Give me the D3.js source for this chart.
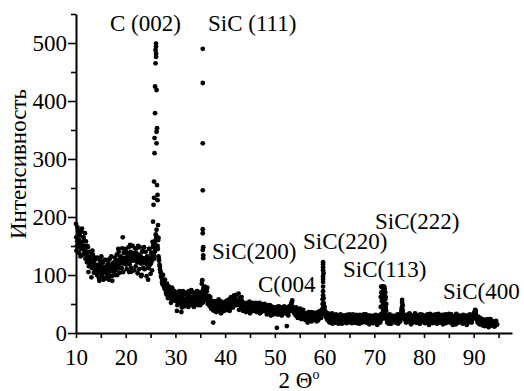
<!DOCTYPE html>
<html>
<head>
<meta charset="utf-8">
<script src="https://cdn.jsdelivr.net/npm/d3@7"></script>
<style>
  body { margin: 0; background: #fff; }
  svg text { font-family: "Liberation Serif", "DejaVu Serif", "Times New Roman", serif; fill: #000; }
</style>
</head>
<body>
<svg id="chart" width="524" height="391"></svg>
<script>
const SERIF = "'Liberation Serif', 'DejaVu Serif', 'Noto Serif', 'Times New Roman', serif";

// background scan, read every 0.2 deg: pass A from 10.0, pass B from 10.1, pass C from 10.05
const BG_STEP = 0.2;
const BG_A_START = 10;
const BG_A = [
  188, 150, 176, 138, 168, 145, 180, 135, 160, 172,
  158, 122, 148, 115, 140, 126, 112, 135, 104, 130,
  128, 100, 118, 95, 125, 108, 98, 122, 112, 94,
  126, 102, 115, 92, 128, 110, 98, 120, 105, 130,
  108, 135, 118, 140, 104, 128, 112, 165, 138, 120,
  145, 110, 132, 148, 118, 140, 106, 150, 125, 138,
  115, 146, 103, 135, 148, 120, 100, 142, 128, 110,
  140, 98, 130, 112, 145, 102, 135, 138, 148, 155,
  160, 178, 150, 132, 118, 105, 96, 84, 90, 78,
  82, 66, 78, 62, 74, 70, 58, 76, 64, 72,
  55, 68, 48, 62, 72, 50, 36, 65, 58, 46,
  70, 52, 64, 45, 68, 58, 74, 48, 62, 55,
  66, 50, 72, 56, 60, 48, 70, 58, 75, 62,
  68, 56, 78, 60, 50, 62, 42, 55, 18, 38,
  50, 36, 46, 55, 40, 48, 34, 52, 44, 38,
  46, 55, 40, 50, 58, 42, 62, 50, 44, 65,
  58, 48, 66, 52, 40, 60, 45, 55, 38, 50,
  48, 36, 52, 42, 45, 34, 50, 40, 46, 38,
  44, 52, 36, 48, 40, 34, 50, 38, 45, 42,
  40, 46, 32, 44, 36, 48, 30, 42, 38, 34,
  44, 36, 9, 40, 32, 45, 38, 30, 42, 35,
  40, 34, 12, 44, 36, 42, 48, 53, 45, 38,
  42, 30, 38, 26, 40, 34, 28, 36, 32, 24,
  34, 22, 30, 18, 36, 26, 32, 20, 28, 35,
  24, 32, 20, 36, 28, 34, 30, 38, 42, 50,
  45, 36, 28, 22, 32, 18, 26, 30, 16, 24,
  28, 18, 30, 22, 16, 26, 32, 20, 24, 18,
  30, 22, 17, 28, 24, 32, 19, 26, 21, 29,
  18, 27, 31, 20, 25, 16, 29, 23, 30, 19,
  26, 32, 18, 24, 28, 15, 30, 21, 25, 17,
  28, 20, 24, 14, 22, 30, 18, 26, 34, 40,
  36, 30, 24, 18, 28, 20, 25, 16, 30, 22,
  26, 18, 30, 22, 16, 28, 20, 35, 40, 32,
  24, 30, 18, 26, 32, 20, 28, 15, 25, 30,
  22, 34, 18, 28, 24, 31, 16, 26, 20, 29,
  25, 17, 30, 22, 27, 14, 33, 20, 26, 18,
  28, 21, 32, 16, 24, 30, 19, 27, 22, 15,
  30, 24, 17, 28, 21, 33, 18, 25, 29, 14,
  20, 27, 15, 31, 23, 18, 28, 22, 26, 16,
  24, 30, 19, 14, 27, 22, 32, 25, 18, 28,
  32, 36, 38, 26, 18, 22, 15, 24, 20, 13,
  19, 12, 23, 16, 21, 10, 18, 24, 14, 20,
  16, 11, 19, 14
];
const BG_B_START = 10.1;
const BG_B = [
  142, 182, 155, 170, 132, 175, 150, 165, 140, 128,
  136, 150, 105, 132, 118, 96, 142, 120, 125, 108,
  112, 130, 104, 90, 115, 132, 100, 92, 126, 105,
  95, 118, 124, 106, 98, 132, 90, 114, 122, 100,
  126, 100, 145, 112, 132, 120, 146, 105, 128, 142,
  118, 138, 122, 105, 152, 112, 135, 128, 108, 146,
  138, 122, 150, 110, 128, 98, 140, 112, 148, 125,
  122, 132, 92, 145, 118, 138, 108, 150, 128, 142,
  168, 145, 160, 125, 110, 98, 88, 100, 80, 92,
  70, 85, 60, 80, 66, 52, 78, 62, 68, 56,
  62, 38, 70, 54, 60, 66, 44, 72, 52, 68,
  48, 66, 56, 72, 50, 62, 52, 70, 45, 66,
  58, 72, 48, 64, 70, 54, 62, 52, 68, 80,
  58, 72, 50, 64, 46, 56, 52, 40, 48, 55,
  42, 52, 38, 58, 46, 35, 54, 44, 50, 48,
  52, 40, 56, 46, 38, 60, 48, 58, 52, 60,
  64, 54, 50, 68, 56, 48, 62, 42, 52, 44,
  40, 50, 44, 38, 54, 46, 38, 52, 42, 48,
  38, 46, 50, 40, 52, 44, 36, 48, 40, 50,
  44, 36, 48, 38, 42, 34, 46, 40, 32, 44,
  38, 42, 32, 46, 38, 34, 44, 40, 36, 46,
  34, 42, 38, 30, 46, 38, 50, 56, 40, 34,
  36, 44, 32, 38, 30, 42, 24, 34, 40, 28,
  26, 34, 24, 32, 28, 22, 36, 26, 32, 24,
  30, 26, 34, 22, 30, 38, 26, 32, 36, 44,
  38, 30, 24, 34, 20, 28, 22, 34, 26, 20,
  22, 32, 26, 18, 30, 22, 27, 16, 30, 26,
  20, 26, 31, 18, 29, 23, 27, 17, 32, 24,
  29, 22, 17, 28, 21, 31, 24, 18, 26, 32,
  20, 27, 31, 22, 17, 29, 24, 28, 19, 30,
  22, 31, 18, 26, 28, 20, 32, 24, 30, 38,
  34, 26, 30, 22, 16, 32, 24, 29, 20, 27,
  21, 29, 24, 32, 27, 20, 30, 42, 36, 26,
  31, 22, 28, 20, 27, 34, 22, 30, 18, 26,
  28, 20, 30, 24, 17, 27, 32, 21, 31, 24,
  29, 23, 19, 32, 20, 28, 22, 30, 17, 31,
  19, 30, 24, 28, 33, 18, 26, 22, 31, 24,
  21, 32, 26, 20, 31, 24, 28, 32, 20, 27,
  29, 22, 33, 24, 19, 30, 21, 27, 18, 31,
  20, 26, 28, 30, 18, 29, 24, 20, 31, 26,
  35, 40, 30, 22, 28, 16, 26, 18, 24, 17,
  22, 16, 20, 13, 24, 18, 22, 15, 20, 12,
  18, 13, 21, 15
];
const BG_C_START = 10.05;
const BG_C = [
  165, 158, 150, 160, 148, 155, 152, 145, 150, 142,
  140, 132, 128, 124, 130, 118, 122, 115, 118, 112,
  110, 115, 108, 112, 104, 118, 110, 106, 114, 108,
  110, 104, 112, 118, 106, 114, 108, 112, 116, 110,
  115, 120, 124, 118, 126, 122, 130, 124, 120, 128,
  130, 126, 134, 128, 138, 124, 130, 136, 126, 132,
  128, 134, 124, 130, 122, 132, 126, 120, 128, 124,
  122, 118, 126, 115, 128, 120, 124, 130, 134, 140,
  170, 165, 145, 128, 115, 104, 95, 88, 82, 76,
  76, 72, 70, 68, 70, 66, 64, 68, 62, 64,
  60, 62, 58, 56, 62, 54, 58, 60, 56, 58,
  58, 60, 56, 62, 54, 60, 58, 56, 60, 54,
  58, 56, 60, 62, 58, 56, 62, 60, 66, 72,
  64, 62, 58, 54, 52, 50, 48, 46, 46, 44,
  44, 46, 42, 44, 40, 44, 42, 44, 46, 44,
  46, 48, 46, 50, 48, 52, 54, 56, 54, 58,
  58, 56, 54, 52, 50, 48, 48, 46, 44, 44,
  44, 42, 44, 40, 42, 40, 42, 44, 40, 42,
  42, 40, 42, 44, 40, 42, 38, 40, 42, 40,
  38, 40, 38, 36, 40, 38, 36, 38, 36, 38,
  36, 38, 36, 38, 34, 36, 38, 34, 36, 38,
  36, 38, 36, 38, 40, 42, 44, 46, 42, 38,
  36, 34, 32, 34, 32, 30, 32, 30, 28, 30,
  28, 30, 26, 28, 26, 28, 26, 28, 26, 28,
  28, 26, 28, 30, 28, 30, 32, 34, 38, 44,
  34, 28, 26, 24, 26, 24, 22, 24, 22, 24,
  24, 22, 24, 22, 23, 22, 24, 23, 22, 24,
  23, 24, 22, 24, 23, 25, 22, 24, 23, 22,
  24, 22, 23, 25, 22, 24, 23, 22, 24, 23,
  22, 24, 23, 22, 24, 22, 23, 24, 22, 23,
  24, 22, 23, 22, 24, 23, 22, 24, 30, 34,
  30, 26, 24, 22, 23, 22, 24, 22, 23, 24,
  23, 22, 24, 23, 22, 24, 26, 32, 34, 28,
  24, 26, 25, 24, 26, 25, 24, 25, 26, 24,
  25, 24, 26, 25, 24, 25, 23, 24, 25, 24,
  23, 24, 22, 24, 23, 22, 24, 23, 22, 24,
  23, 22, 24, 22, 23, 24, 22, 23, 22, 21,
  22, 23, 21, 22, 24, 22, 23, 21, 22, 20,
  22, 21, 23, 20, 22, 21, 20, 22, 21, 23,
  22, 20, 21, 23, 22, 24, 26, 24, 22, 26,
  30, 34, 30, 24, 20, 19, 18, 19, 18, 17,
  18, 17, 18, 16, 17, 18, 16, 17, 16, 15,
  16, 15, 16, 15
];

// peak readings [2theta, intensity]
const PEAK_C002 = [
  [25.4, 157], [25.5, 192], [25.6, 221], [25.7, 233], [25.7, 261], [25.8, 310],
  [25.8, 336], [25.9, 379], [25.9, 425], [26.0, 465], [26.0, 488], [26.1, 499],
  [26.1, 494], [26.1, 482], [26.1, 476], [26.2, 419], [26.2, 347], [26.2, 327],
  [26.3, 353], [26.3, 255], [26.4, 229], [26.4, 238], [26.5, 186], [26.6, 164]
];
const PEAK_SIC111 = [
  [35.3, 85], [35.4, 91], [35.5, 490], [35.5, 431], [35.5, 327], [35.5, 246],
  [35.5, 179], [35.5, 172], [35.6, 148], [35.5, 143], [35.6, 134], [35.6, 129], [35.7, 79]
];
const PEAK_SIC220 = [
  [59.6, 50], [59.6, 58], [59.7, 65], [59.7, 72], [59.7, 80], [59.7, 88], [59.7, 93],
  [59.7, 98], [59.8, 103], [59.7, 108], [59.7, 113], [59.7, 118], [59.7, 122],
  [59.8, 60], [59.8, 52], [59.9, 45]
];
const PEAK_SIC113 = [
  [71.3, 45], [71.3, 62], [71.4, 80], [71.4, 70], [71.5, 79], [71.5, 55], [71.6, 80],
  [71.6, 66], [71.7, 78], [71.7, 48], [71.8, 80], [71.8, 72], [71.9, 79], [71.9, 60],
  [72.0, 80], [72.0, 52], [72.1, 76], [72.1, 68], [72.2, 70], [72.2, 58], [72.3, 62],
  [72.3, 44], [72.4, 50], [72.4, 38]
];
const PEAK_SIC222 = [[75.5, 38], [75.6, 45], [75.6, 52], [75.6, 57], [75.7, 48], [75.7, 40]];
const PEAK_SIC400 = [[90.2, 33], [90.3, 38], [90.4, 35]];

const PEAK_LABELS = ["C (002)", "SiC (111)", "SiC(200)", "SiC(220)", "C(004", "SiC(113)", "SiC(222)", "SiC(400"];
const X_MAJOR = [10, 20, 30, 40, 50, 60, 70, 80, 90];
const X_MINOR = [15, 25, 35, 45, 55, 65, 75, 85, 95];
const Y_MAJOR = [0, 100, 200, 300, 400, 500];
const Y_MINOR = [50, 150, 250, 350, 450, 550];

const svg = d3.select("#chart");
const x = d3.scaleLinear().domain([10, 97.7]).range([76, 512]);
const y = d3.scaleLinear().domain([0, 550]).range([333, 14]);

const points = BG_A.map((v, i) => [BG_A_START + i * BG_STEP, v])
  .concat(BG_B.map((v, i) => [BG_B_START + i * BG_STEP, v]))
  .concat(BG_C.map((v, i) => [BG_C_START + i * BG_STEP, v]))
  .concat(PEAK_C002, PEAK_SIC111, PEAK_SIC220, PEAK_SIC113, PEAK_SIC222, PEAK_SIC400);

svg.append("g")
  .selectAll("circle")
  .data(points)
  .join("circle")
  .attr("cx", d => x(d[0]))
  .attr("cy", d => y(d[1]))
  .attr("r", 2.4)
  .attr("fill", "#000");

// axes
const gx = svg.append("g").attr("transform", `translate(0,${y(0)})`)
  .call(d3.axisBottom(x).tickValues(X_MAJOR).tickSize(5).tickSizeOuter(0).tickFormat(d3.format("d")));
gx.selectAll("text").attr("y", 32).attr("dy", null);

const gxMinor = svg.append("g").attr("transform", `translate(0,${y(0)})`)
  .call(d3.axisBottom(x).tickValues(X_MINOR).tickSize(5).tickFormat(""));
gxMinor.select(".domain").remove();

const gy = svg.append("g").attr("transform", `translate(${x(10)},0)`)
  .call(d3.axisLeft(y).tickValues(Y_MAJOR).tickSize(8).tickSizeOuter(0));
gy.selectAll("text").attr("x", -9);

const gyMinor = svg.append("g").attr("transform", `translate(${x(10)},0)`)
  .call(d3.axisLeft(y).tickValues(Y_MINOR).tickSize(5).tickFormat(""));
gyMinor.select(".domain").remove();

svg.selectAll("g").attr("font-family", null);
svg.selectAll(".domain").attr("stroke-width", 2);
svg.selectAll(".tick line").attr("stroke-width", 1.6);

// titles
svg.append("text")
  .attr("transform", "translate(26,164) rotate(-90)")
  .attr("text-anchor", "middle")
  .text("Интенсивность");

const xt = svg.append("text")
  .attr("x", 299)
  .attr("y", 388)
  .attr("text-anchor", "middle");
xt.append("tspan").text("2 Θ");
xt.append("tspan").attr("dy", -9).style("font-size", "14px").text("o");

// peak labels
const labelPos = [[110, 31], [208, 31], [212, 259], [303, 249], [258, 292], [343, 277], [375, 229], [443, 299]];
svg.append("g")
  .selectAll("text")
  .data(PEAK_LABELS)
  .join("text")
  .attr("x", (d, i) => labelPos[i][0])
  .attr("y", (d, i) => labelPos[i][1])
  .text(d => d);

svg.selectAll("text")
  .style("font-family", SERIF)
  .style("font-size", "23px");
xt.select("tspan:last-child").style("font-size", "14px");
</script>
</body>
</html>
